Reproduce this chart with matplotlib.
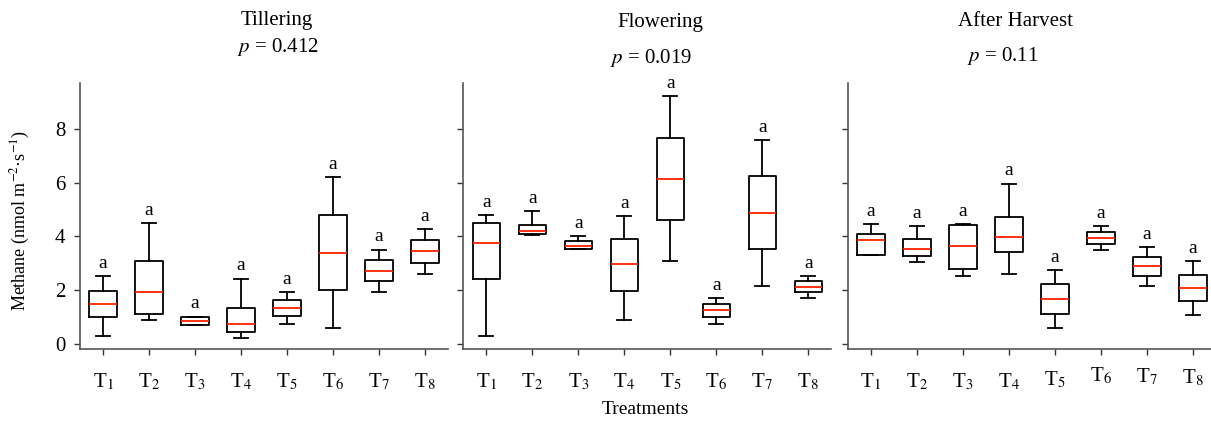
import matplotlib
matplotlib.use("Agg")
import matplotlib.pyplot as plt

plt.rcParams['font.family'] = ['Liberation Serif', 'DejaVu Serif']
plt.rcParams['mathtext.fontset'] = 'stix'

treatments = ['T$_1$', 'T$_2$', 'T$_3$', 'T$_4$', 'T$_5$', 'T$_6$', 'T$_7$', 'T$_8$']
stages = ['Tillering', 'Flowering', 'After Harvest']
p_values = ['0.412', '0.019', '0.11']
letters = ['a'] * 8

# five-number summaries: whisker low, Q1, median, Q3, whisker high
tillering_lo = [0.29, 0.88, 0.70, 0.22, 0.76, 0.61, 1.93, 2.62]
tillering_q1 = [1.00, 1.13, 0.72, 0.46, 1.03, 2.00, 2.33, 3.03]
tillering_med = [1.50, 1.93, 0.87, 0.76, 1.34, 3.40, 2.71, 3.45]
tillering_q3 = [1.97, 3.09, 1.00, 1.35, 1.64, 4.81, 3.11, 3.86]
tillering_hi = [2.53, 4.49, 1.02, 2.43, 1.93, 6.21, 3.51, 4.28]

flowering_lo = [0.29, 4.04, 3.52, 0.89, 3.09, 0.76, 2.17, 1.72]
flowering_q1 = [2.41, 4.10, 3.52, 1.97, 4.62, 1.00, 3.53, 1.92]
flowering_med = [3.76, 4.19, 3.63, 2.97, 6.15, 1.25, 4.88, 2.12]
flowering_q3 = [4.49, 4.43, 3.83, 3.89, 7.67, 1.49, 6.25, 2.33]
flowering_hi = [4.78, 4.93, 4.00, 4.77, 9.22, 1.72, 7.58, 2.53]

harvest_lo = [3.32, 3.06, 2.53, 2.60, 0.61, 3.51, 2.17, 1.08]
harvest_q1 = [3.32, 3.26, 2.79, 3.41, 1.13, 3.73, 2.53, 1.58]
harvest_med = [3.88, 3.53, 3.64, 3.99, 1.67, 3.93, 2.89, 2.07]
harvest_q3 = [4.08, 3.92, 4.43, 4.72, 2.22, 4.15, 3.25, 2.58]
harvest_hi = [4.45, 4.39, 4.46, 5.97, 2.74, 4.38, 3.59, 3.07]

# vertical offsets (points) of x tick labels in the third panel (as in reference)
harvest_label_dy = [0, 0, 0, 0, 1.5, 4, 3.5, 3]

data = [
    (tillering_lo, tillering_q1, tillering_med, tillering_q3, tillering_hi),
    (flowering_lo, flowering_q1, flowering_med, flowering_q3, flowering_hi),
    (harvest_lo, harvest_q1, harvest_med, harvest_q3, harvest_hi),
]
label_dys = [[0] * 8, [0] * 8, harvest_label_dy]

fig = plt.figure(figsize=(12.11, 4.22), dpi=100)
W, H = 1211.0, 422.0
lefts = [80.0, 463.3, 847.7]
ax_w = 368.0
ax_bottom = (H - 349.3) / H
ax_h = (349.3 - 83.3) / H

spine_col = '#555555'
positions = list(range(1, 9))

for k, (lo, q1, med, q3, hi) in enumerate(data):
    ax = fig.add_axes([lefts[k] / W, ax_bottom, ax_w / W, ax_h])
    stats = [dict(whislo=lo[i], q1=q1[i], med=med[i], q3=q3[i], whishi=hi[i],
                  fliers=[], label=treatments[i]) for i in range(8)]
    ax.bxp(stats, positions=positions, widths=0.6, showfliers=False,
           boxprops=dict(color='black', linewidth=1.3),
           whiskerprops=dict(color='black', linewidth=1.3),
           capprops=dict(color='black', linewidth=1.3),
           medianprops=dict(color='#ff2000', linewidth=1.3))
    ax.set_xlim(0.5, 8.5)
    ax.set_ylim(-0.2, 9.7)
    ax.set_yticks([0, 2, 4, 6, 8])
    ax.set_xticks(positions)
    ax.set_xticklabels([])
    for s in ['top', 'right']:
        ax.spines[s].set_visible(False)
    for s in ['left', 'bottom']:
        ax.spines[s].set_color(spine_col)
        ax.spines[s].set_linewidth(1.2)
    ax.tick_params(axis='both', direction='out', length=4, width=1.0, color='#333333')
    if k == 0:
        ax.tick_params(axis='y', labelsize=15, pad=14)
        for lab in ax.get_yticklabels():
            lab.set_horizontalalignment('left')
    else:
        ax.set_yticklabels([])
    # tick labels drawn as texts, so per-label offsets are possible
    for i, x in enumerate(positions):
        ax.annotate(treatments[i], xy=(x, 0), xycoords=('data', 'axes fraction'),
                    xytext=(0, -16 + label_dys[k][i]), textcoords='offset points',
                    ha='center', va='top', fontsize=15, annotation_clip=False)
    # significance letters
    for i, x in enumerate(positions):
        ax.annotate(letters[i], xy=(x, hi[i]), xytext=(0, 3), textcoords='offset points',
                    ha='center', va='bottom', fontsize=14)

# titles
title_x = [277, 660, 1016]
title_y = [20, 22, 22]
p_x = [278, 651, 1003]
p_y = [47, 58, 56]
for k in range(3):
    fig.text(title_x[k] / W, 1 - title_y[k] / H, stages[k], ha='center', va='center', fontsize=15)
    fig.text(p_x[k] / W, 1 - p_y[k] / H, '$p$ = ' + p_values[k], ha='center', va='center', fontsize=15)

fig.text(20 / W, 1 - 220 / H, 'Methane (nmol m$^{-2}$·s$^{-1}$)', rotation=90,
         ha='center', va='center', fontsize=13)
fig.text(645 / W, 1 - 410 / H, 'Treatments', ha='center', va='center', fontsize=14)

fig.savefig('out.png', dpi=100)
